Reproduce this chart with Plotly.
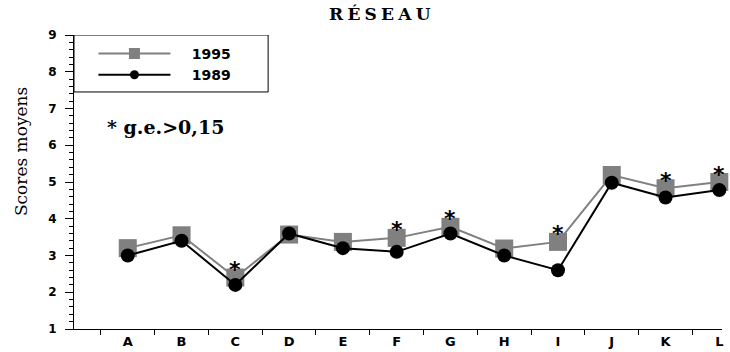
import plotly.graph_objects as go

categories = ["A", "B", "C", "D", "E", "F", "G", "H", "I", "J", "K", "L"]
scores_1995 = [3.2, 3.55, 2.4, 3.57, 3.37, 3.48, 3.78, 3.19, 3.37, 5.19, 4.83, 5.0]
scores_1989 = [3.0, 3.4, 2.2, 3.6, 3.2, 3.1, 3.6, 3.0, 2.6, 4.98, 4.58, 4.78]
significant = [False, False, True, False, False, True, True, False, True, False, True, True]
y_ticks = [1, 2, 3, 4, 5, 6, 7, 8, 9]

xpos = list(range(1, len(categories) + 1))

fig = go.Figure()
fig.add_trace(go.Scatter(
    x=xpos, y=scores_1995, name="1995", mode="lines+markers", showlegend=False,
    line=dict(color="#808080", width=2),
    marker=dict(symbol="square", size=18, color="#808080"),
    cliponaxis=False,
))
fig.add_trace(go.Scatter(
    x=xpos, y=scores_1989, name="1989", mode="lines+markers", showlegend=False,
    line=dict(color="black", width=2),
    marker=dict(symbol="circle", size=14, color="black"),
    cliponaxis=False,
))
# legend keys (no data points)
fig.add_trace(go.Scatter(
    x=[None], y=[None], name="\u2002\u2002\u20061995", mode="lines+markers",
    line=dict(color="#808080", width=2),
    marker=dict(symbol="square", size=11, color="#808080"),
))
fig.add_trace(go.Scatter(
    x=[None], y=[None], name="\u2002\u2002\u20061989", mode="lines+markers",
    line=dict(color="black", width=2),
    marker=dict(symbol="circle", size=9, color="black"),
))

annotations = []
for xi, v, s in zip(xpos, scores_1995, significant):
    if s:
        annotations.append(dict(x=xi, y=v, xref="x", yref="y", text="<b>*</b>", showarrow=False,
                                xanchor="center", yanchor="middle",
                                yshift=8, font=dict(family="DejaVu Sans", size=22, color="black")))

annotations.append(dict(x=(380 - 74) / 648, y=(328.7 - 14) / 293.7, xref="paper", yref="paper",
                        xanchor="center", yanchor="middle",
                        text="<b>R\u2005É\u2005S\u2005E\u2005A\u2005U</b>", showarrow=False,
                        font=dict(family="DejaVu Serif", size=17, color="black")))
annotations.append(dict(x=(21 - 74) / 648, y=(328.7 - 152) / 293.7, xref="paper", yref="paper",
                        xanchor="center", yanchor="middle",
                        text="Scores moyens", showarrow=False, textangle=-90,
                        font=dict(family="DejaVu Serif", size=17, color="black")))
annotations.append(dict(x=1.7, y=6.5, xref="x", yref="y", text="<b>* g.e.>0,15</b>", showarrow=False,
                        xanchor="center", yanchor="middle",
                        font=dict(family="DejaVu Serif", size=19, color="black")))

fig.update_layout(
    width=730, height=352,
    margin=dict(l=74, r=8, t=35, b=23, autoexpand=False),
    paper_bgcolor="white", plot_bgcolor="white",
    showlegend=True,
    legend=dict(x=0.03, y=0.99, xanchor="left", yanchor="top",
                bgcolor="rgba(0,0,0,0)", borderwidth=0, itemwidth=72,
                tracegroupgap=0,
                font=dict(family="DejaVu Sans", size=14, color="black", weight="bold")),
    annotations=annotations,
    shapes=[dict(type="rect", xref="x", yref="y", x0=0, x1=3.61, y0=7.45, y1=9,
                 line=dict(color="black", width=1), layer="below")],
    xaxis=dict(range=[0, 12.05], tickmode="array", tickvals=xpos,
               ticktext=["<b>%s</b>" % c for c in categories],
               ticks="", showgrid=False, zeroline=False, automargin=False,
               showline=True, linecolor="black", linewidth=1,
               ticklabeloverflow="allow",
               tickfont=dict(family="DejaVu Sans", size=13, color="black"),
               minor=dict(tickmode="array", tickvals=[i + 0.5 for i in range(len(categories))],
                          ticks="outside", ticklen=5, tickcolor="black", tickwidth=1, showgrid=False)),
    yaxis=dict(range=[1, 9], tickmode="array", tickvals=y_ticks,
               ticktext=["<b>%d</b>" % t for t in y_ticks],
               ticks="outside", ticklen=8, tickcolor="black", tickwidth=1,
               showgrid=False, zeroline=False, automargin=False,
               showline=True, linecolor="black", linewidth=1,
               ticklabelstandoff=6,
               tickfont=dict(family="DejaVu Sans", size=12, color="black"),
               minor=dict(dtick=0.2, tick0=1, ticks="outside", ticklen=4, tickcolor="black",
                          tickwidth=1, showgrid=False)),
)

fig.write_html("out.html", config={"displayModeBar": False},
               post_script="document.body.style.margin='0';document.body.style.overflow='hidden';")
